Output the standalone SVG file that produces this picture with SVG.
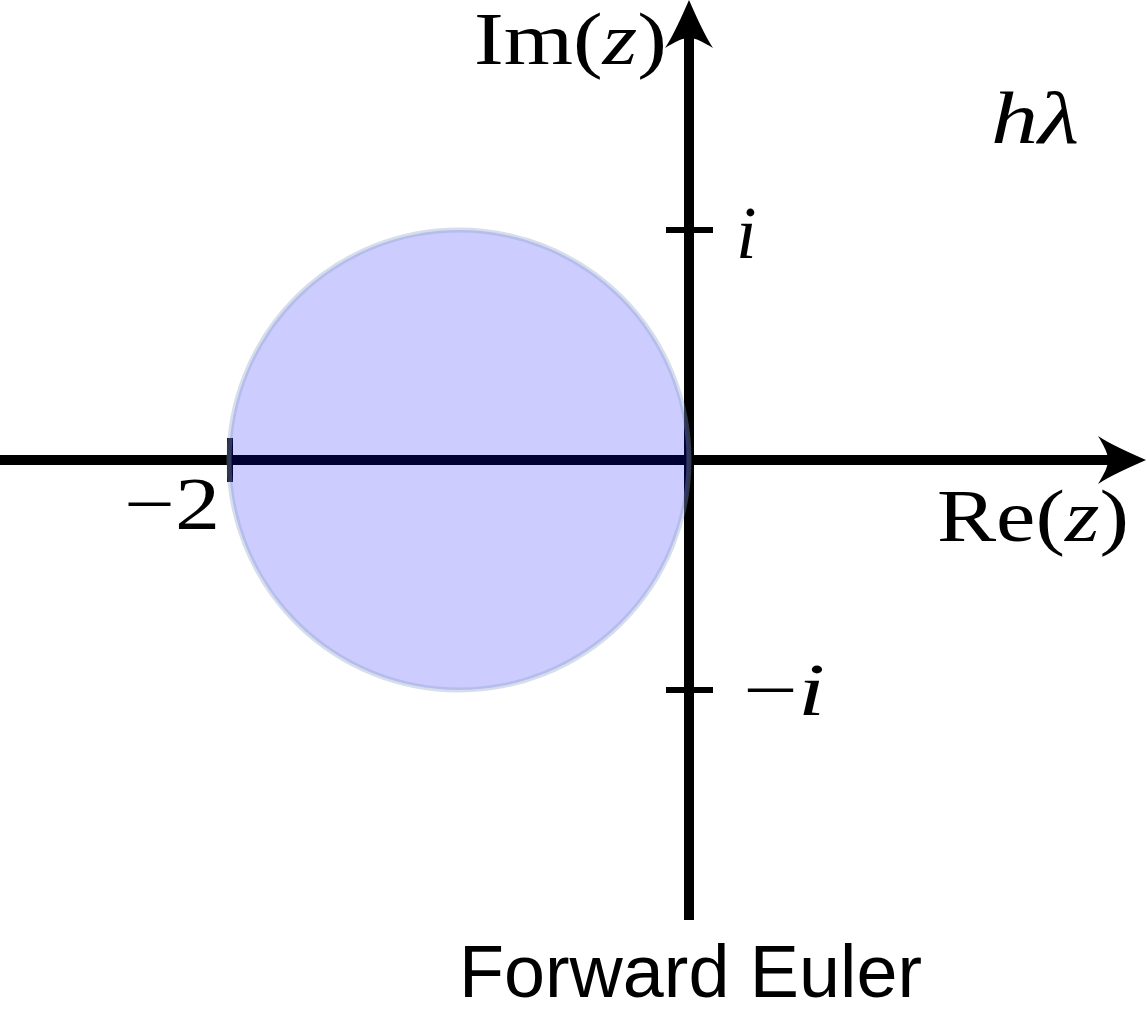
<svg xmlns="http://www.w3.org/2000/svg" width="1147" height="1014" viewBox="0 0 1147 1014">
<style>
.ax{stroke:#000;stroke-width:10;fill:none}
.tk{stroke:#000;stroke-width:6;fill:none}
.m{font-family:"Liberation Serif","DejaVu Serif",serif;font-size:74px;fill:#000}
.it{font-style:italic}
.sf{font-family:"Liberation Sans","DejaVu Sans",sans-serif;font-size:74px;fill:#000}
</style>
<rect width="1147" height="1014" fill="#fff"/>
<g id="connectors">
<line class="ax" x1="0" y1="460" x2="1110" y2="460"/>
<line class="ax" x1="689" y1="920" x2="689" y2="35"/>
<path d="M1146,460 C1128,468 1110,476 1098,484 C1104,474 1108,467 1108,460 C1108,453 1104,446 1098,436 C1110,444 1128,452 1146,460 Z" fill="#000"/>
<path d="M689,0 C681,18 673,36 665,48 C675,42 682,38 689,38 C696,38 703,42 713,48 C705,36 697,18 689,0 Z" fill="#000"/>
<line class="tk" x1="666" y1="230" x2="713" y2="230"/>
<line class="tk" x1="666" y1="690" x2="713" y2="690"/>
<line class="tk" x1="230" y1="438" x2="230" y2="482"/>
</g>
<g id="region">
<circle cx="459" cy="460" r="230" fill="#0000ff" fill-opacity="0.2" stroke="#8aa0c8" stroke-opacity="0.35" stroke-width="5"/>
</g>
<g id="labels">
<text class="m" x="474" y="64" font-size="70" textLength="193" lengthAdjust="spacingAndGlyphs">Im(<tspan class="it">z</tspan>)</text>
<text class="m" x="937" y="541" textLength="192" lengthAdjust="spacingAndGlyphs">Re(<tspan class="it">z</tspan>)</text>
<text class="m" x="124" y="529" textLength="96" lengthAdjust="spacingAndGlyphs">−2</text>
<text class="m it" x="736" y="258">i</text>
<text class="m" x="743" y="715" textLength="82" lengthAdjust="spacingAndGlyphs">−<tspan class="it">i</tspan></text>
<text class="m it" x="991" y="143" textLength="88" lengthAdjust="spacingAndGlyphs">hλ</text>
<text class="sf" x="459" y="997" textLength="463" lengthAdjust="spacingAndGlyphs">Forward Euler</text>
</g>
</svg>
